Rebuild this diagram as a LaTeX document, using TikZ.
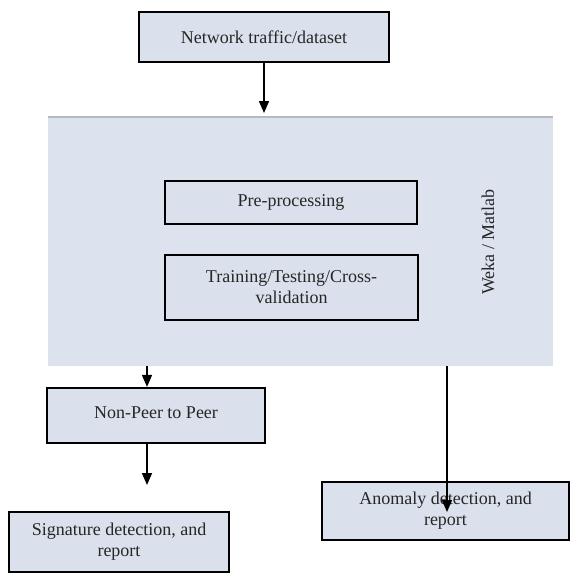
\documentclass[tikz,border=0pt]{standalone}
\usepackage{fontspec}
\setmainfont{Liberation Serif}
\usetikzlibrary{arrows.meta}
\definecolor{boxfill}{HTML}{DAE1EC}
\definecolor{regionfill}{HTML}{DCE3EE}
\definecolor{edgegray}{HTML}{B4B9C2}
\begin{document}
\begin{tikzpicture}[x=1pt,y=-1pt,
  every node/.style={font=\fontsize{18}{21}\selectfont, text=black!85},
  box/.style={draw=black, line width=2.2pt, fill=boxfill, inner sep=0pt, align=center},
  inbox/.style={box, line width=2.8pt},
  region/.style={fill=regionfill, draw=none, inner sep=0pt},
  arr/.style={-{Triangle[width=10pt,length=12pt]}, line width=1.6pt}]
\useasboundingbox (0,0) rectangle (570,574);
% background region
\node[region, minimum width=505, minimum height=249] (region) at (300.5,241.5) {};
\draw[edgegray, line width=1.5pt] (region.north west) -- (region.north east);
% boxes
\node[box, minimum width=250, minimum height=50] (src) at (264,37) {Network traffic/dataset};
\node[inbox, minimum width=252, minimum height=43] (pre) at (291,202.5) {Pre-processing};
\node[inbox, minimum width=253, minimum height=65] (train) at (291.5,287.5) {Training/Testing/Cross-\\validation};
\node[rotate=90] (weka) at (488,242) {Weka / Matlab};
\node[box, minimum width=218, minimum height=55] (np) at (156,415.5) {\raisebox{5pt}{Non-Peer to Peer}};
\node[box, minimum width=220, minimum height=60] (sig) at (119,542) {Signature detection, and\\report};
\node[box, minimum width=247, minimum height=58] (an) at (445.5,511) {Anomaly detection, and\\report};
% helper coordinates
\coordinate (x1) at (147,0);
\coordinate (t1) at (264,113);
\coordinate (t2) at (147,485);
\coordinate (t3) at (447,512);
% connectors
\draw[arr] (src.south) -- (t1);
\draw[arr] (region.south -| x1) -- (np.north -| x1);
\draw[arr] (np.south -| x1) -- (t2);
\draw[arr] (region.south -| t3) -- (t3);
\end{tikzpicture}
\end{document}
